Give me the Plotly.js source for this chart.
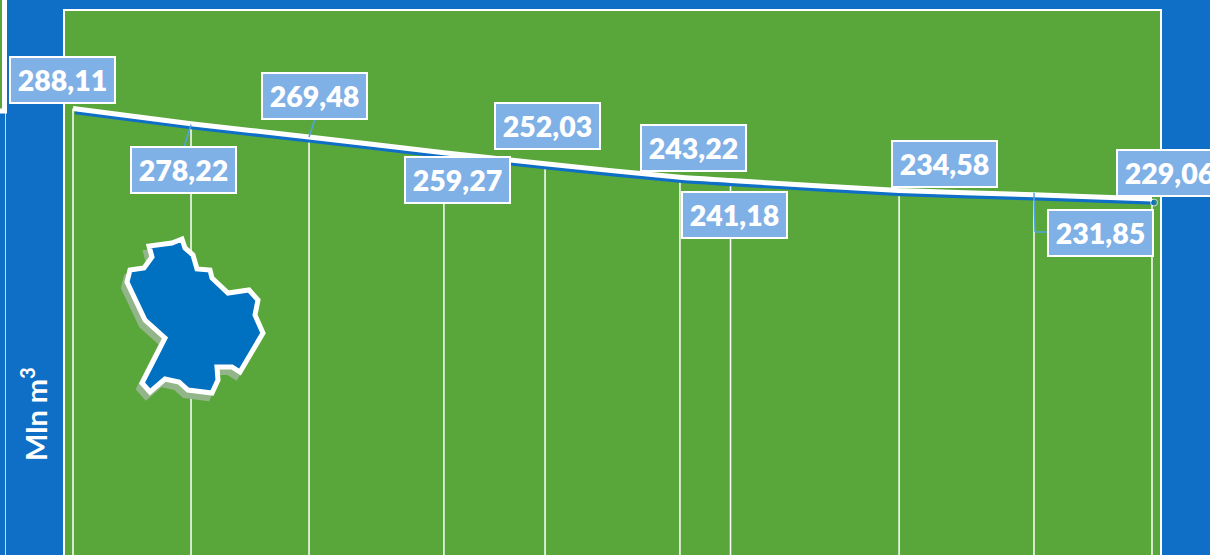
<!DOCTYPE html>
<html>
<head>
<meta charset="utf-8">
<script src="https://cdn.plot.ly/plotly-3.0.1.min.js"></script>
<style>html,body{margin:0;padding:0;overflow:hidden;background:#0F6FC6}</style>
</head>
<body>
<div id="chart" style="width:1210px;height:555px"></div>
<script>
// Data
const timeSteps = [0, 7, 14, 22, 28, 36, 39, 49, 57, 64];
const volumes = [288.11, 278.22, 269.48, 259.27, 252.03, 243.22, 241.18, 234.58, 231.85, 229.06];
const volumeLabels = ['288,11','278,22','269,48','259,27','252,03','243,22','241,18','234,58','231,85','229,06'];
const yTitle = 'Mln m<sup>3</sup>';

// Label placement (box centre relative to its point, pixels)
const labelShiftX = [-10.5, -7.5, 5.5, 13.5, 2.5, 13.5, 3.5, 45.5, 66.5, 17.5];
const labelShiftY = [-28, 46.8, -41, 26.8, -37.8, -29.3, 35, -27, 37.8, -26.5];

// Region outline (pixels on the page)
const mapX = [182,172,149,152,144,130,127,145,165,142,150,165,179,188,212,218,217,232,240,263,255,258,249,228,212,210,197,193,185];
const mapY = [239,243,246,257,268,270,282,320,338,383,392,379,382,390,393,380,367,367,372,333,315,300,290,293,278,270,269,255,248];

// Geometry and colours
const W = 1210, H = 555;
const L = 65, R = 1160, T = 11;
const pw = R - L, ph = H - T;
const BLUE = '#0F6FC6', GREEN = '#59A73B', BOX = '#7FB0E6', LEADER = '#4FA3E8';
const xRange = [-0.4745, 64.4745];
const yRange = [-3.15, 351.7];

const px = v => (v - L) / pw;
const py = v => 1 - (v - T) / ph;
const outline = (dx, dy) => 'M ' + mapX.map((x, i) => px(x + dx) + ',' + py(mapY[i] + dy)).join(' L ') + ' Z';
const seg = (x0, y0, x1, y1, color, width) => ({type:'line', xref:'paper', yref:'paper',
  x0:px(x0), y0:py(y0), x1:px(x1), y1:py(y1), line:{color, width}});

const floorGap = volumes.map(v => v - yRange[0]);

const traces = [
  { x: timeSteps, y: volumes, type:'scatter', mode:'markers', hoverinfo:'skip',
    marker:{size:1, color:'rgba(0,0,0,0)'},
    error_y:{type:'data', symmetric:false, array:volumes.map(() => 0), arrayminus:floorGap,
      color:'#FFFFFF', thickness:1.5, width:0} },
  { x: timeSteps, y: volumes, xaxis:'x2', yaxis:'y2', type:'scatter', mode:'lines+markers', hoverinfo:'skip',
    line:{color:'#0F6FC6', width:4.5, shape:'spline', smoothing:0.6},
    marker:{size:volumes.map((v, i) => i === volumes.length - 1 ? 7 : 0), color:'#0F6FC6'} },
  { x: timeSteps, y: volumes, xaxis:'x3', yaxis:'y3', type:'scatter', mode:'lines', hoverinfo:'skip',
    line:{color:'#FFFFFF', width:5, shape:'spline', smoothing:0.6} }
];

const ptX = u => L + 8 + (u * (pw - 16)) / 64;
const ptY = v => T + ph * (yRange[1] - v) / (yRange[1] - yRange[0]);

const labels = volumeLabels.map((t, i) => ({
  x: timeSteps[i], y: volumes[i], xref:'x', yref:'y', text:t, showarrow:false,
  xanchor:'center', yanchor:'middle', align:'center', valign:'middle',
  xshift: labelShiftX[i], yshift: -labelShiftY[i],
  width:103, height:44, bgcolor:BOX, bordercolor:'#FFFFFF', borderwidth:2, borderpad:0,
  font:{family:'Lato, "Open Sans", sans-serif', size:28.5, color:'#FFFFFF', weight:800}
}));

const titleNote = { xref:'paper', yref:'paper', x:px(34), y:py(414), text:'<b>' + yTitle + '</b>',
  showarrow:false, textangle:-90, xanchor:'center', yanchor:'middle',
  font:{family:'Lato, "Open Sans", sans-serif', size:29, color:'#FFFFFF'} };

const shapes = [
  // small cut-off panel at the far left
  {type:'rect', xref:'paper', yref:'paper', x0:px(-10), x1:px(4.5), y0:py(111), y1:py(-10),
   fillcolor:GREEN, line:{color:'#FFFFFF', width:5}},
  seg(5.5, 113, 5.5, 560, 'rgba(255,255,255,0.75)', 1),
  // region map with its shadow
  {type:'path', xref:'paper', yref:'paper', path:outline(-4, 6), fillcolor:'#93B58A', line:{color:'#93B58A', width:4}},
  {type:'path', xref:'paper', yref:'paper', path:outline(0, 0), fillcolor:'#0070C0', line:{color:'#FFFFFF', width:5}},
  // leader lines
  seg(ptX(7) , ptY(278.22) + 1, 184, 147, LEADER, 1.5),
  seg(ptX(14), ptY(269.48), 315, 119, LEADER, 1.5),
  seg(ptX(57), ptY(231.85) - 2, 1035, 232, LEADER, 1.5),
  seg(1035, 232, 1048, 232, LEADER, 1.5)
];

const hiddenAxis = {visible:false, fixedrange:true};
const layout = {
  width:W, height:H,
  margin:{l:L, r:W - R, t:T, b:0, pad:0},
  paper_bgcolor:BLUE, plot_bgcolor:GREEN,
  showlegend:false,
  xaxis:{range:xRange, showgrid:false, zeroline:false, showticklabels:false, ticks:'',
         showline:true, mirror:true, linecolor:'#FFFFFF', linewidth:1.5, fixedrange:true},
  yaxis:{range:yRange, showgrid:false, zeroline:false, showticklabels:false, ticks:'',
         showline:true, mirror:true, linecolor:'#FFFFFF', linewidth:1.5, fixedrange:true},
  // same scale, displaced slightly: it carries the blue under-line
  xaxis2:Object.assign({overlaying:'x', anchor:'y2', range:[xRange[0] - 0.12, xRange[1] - 0.12]}, hiddenAxis),
  yaxis2:Object.assign({overlaying:'y', anchor:'x2', range:[yRange[0] + 2.3, yRange[1] + 2.3]}, hiddenAxis),
  // same scale as the frame: it lifts the white line above the blue one
  xaxis3:Object.assign({overlaying:'x', anchor:'y3', range:xRange}, hiddenAxis),
  yaxis3:Object.assign({overlaying:'y', anchor:'x3', range:yRange}, hiddenAxis),
  shapes,
  annotations:labels.concat([titleNote])
};
Plotly.newPlot('chart', traces, layout, {displayModeBar:false, responsive:false});
</script>
</body>
</html>
